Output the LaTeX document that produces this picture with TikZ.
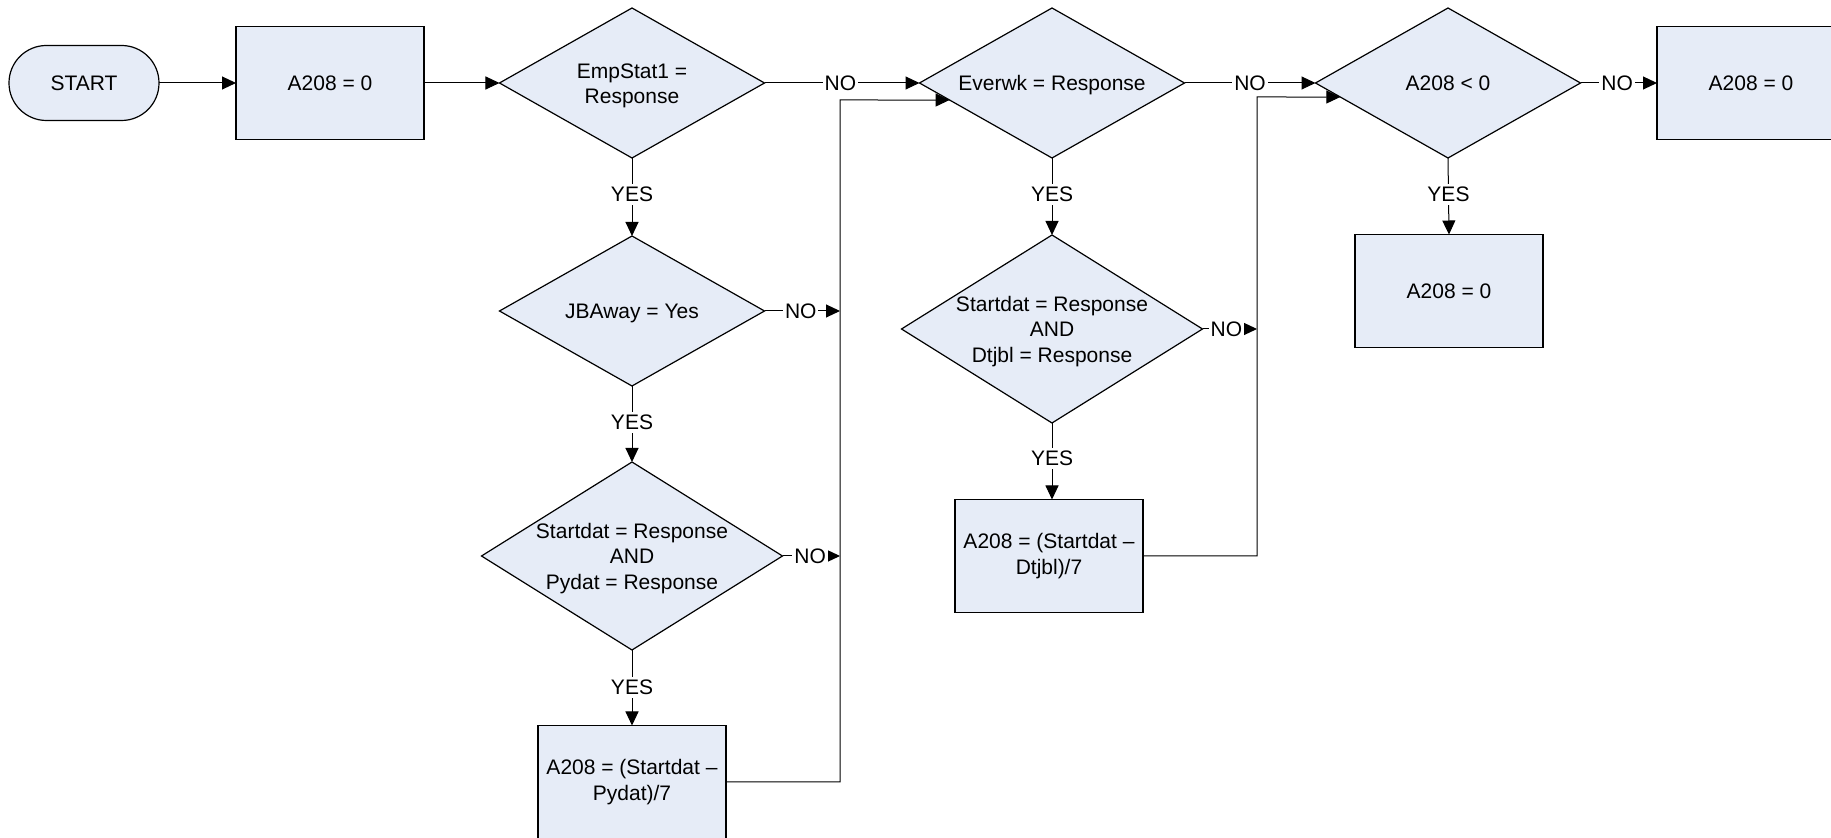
\documentclass[tikz,border=0pt]{standalone}
\usepackage{fontspec}
\setmainfont{Liberation Sans}
\usetikzlibrary{shapes.geometric,arrows.meta,calc}
\definecolor{boxfill}{HTML}{E6ECF7}
\newcommand{\flowfont}{\fontsize{10.5pt}{12.6pt}\selectfont}
\newcommand{\dtext}[1]{\makebox[0pt]{\smash{\raisebox{-4.2pt}{\begin{tabular}{@{}c@{}}#1\end{tabular}}}}}
\tikzset{
  shapebase/.style={draw, line width=0.6pt, fill=boxfill, font=\flowfont, outer sep=0pt, inner sep=0pt},
  proc/.style={shapebase, rectangle, minimum width=94pt, minimum height=56.5pt, align=center},
  termbox/.style={shapebase, rectangle, rounded corners=18.7pt, minimum width=75pt, minimum height=37.5pt},
  dec/.style={shapebase, diamond, minimum width=132.5pt, minimum height=75pt},
  bigdec/.style={shapebase, diamond, minimum width=150.5pt, minimum height=94pt},
  arr/.style={line width=0.5pt, -{Triangle[length=7pt,width=6.5pt]}},
  lbl/.style={fill=white, inner xsep=1pt, inner ysep=1.5pt, font=\flowfont}
}
\begin{document}
\begin{tikzpicture}[x=0.5pt,y=-0.5pt]
\useasboundingbox (0,0) rectangle (1831,838);
% nodes
\node[termbox] (start) at (84,83) {START};
\node[proc] (b1) at (330,83) {A208 = 0};
\node[dec] (emp) at (632,83) {\dtext{EmpStat1 =\\Response}};
\node[dec] (ev) at (1052,83) {\dtext{Everwk = Response}};
\node[dec] (lt) at (1448,83) {\dtext{A208 < 0}};
\node[proc] (rb) at (1751,83) {A208 = 0};
\node[dec] (jb) at (632,311) {\dtext{JBAway = Yes}};
\node[bigdec] (pd) at (632,556) {\dtext{Startdat = Response\\AND\\Pydat = Response}};
\node[proc] (pb) at (632,782) {A208 = (Startdat --\\Pydat)/7};
\node[bigdec] (dt) at (1052,329) {\dtext{Startdat = Response\\AND\\Dtjbl = Response}};
\node[proc] (db) at (1049,556) {A208 = (Startdat --\\Dtjbl)/7};
\node[proc] (yb) at (1449,291) {A208 = 0};
\coordinate (v1top) at (840,100);
\coordinate (v2top) at (1257,97);
% connectors
\draw[arr] (start) -- (b1);
\draw[arr] (b1) -- (emp);
\draw[arr] (emp.east) -- node[lbl,pos=.49]{NO} (ev.west);
\draw[arr] (ev.east) -- node[lbl,pos=.5]{NO} (lt.west);
\draw[arr] (lt.east) -- node[lbl,pos=.48]{NO} (rb.west);
\draw[arr] (emp.south) -- node[lbl,pos=.47]{YES} (jb.north);
\draw[arr] (jb.south) -- node[lbl,pos=.48]{YES} (pd.north);
\draw[arr] (pd.south) -- node[lbl,pos=.5]{YES} (pb.north);
\draw[arr] (jb.east) -- node[lbl,pos=.48]{NO} (jb.east -| v1top);
\draw[arr] (pd.east) -- node[lbl,pos=.48]{NO} (pd.east -| v1top);
\draw[arr] (pb.east) -| (v1top) -- ($(ev.west)!0.227!(ev.south)$);
\draw[arr] (ev.south) -- node[lbl,pos=.47]{YES} (dt.north);
\draw[arr] (dt.south) -- node[lbl,pos=.46]{YES} (dt.south |- db.north);
\draw[arr] (dt.east) -- node[lbl,pos=.44]{NO} (dt.east -| v2top);
\draw[arr] (db.east) -| (v2top) -- ($(lt.west)!0.187!(lt.south)$);
\draw[arr] (lt.south) -- node[lbl,pos=.48]{YES} (yb.north);
\end{tikzpicture}
\end{document}
